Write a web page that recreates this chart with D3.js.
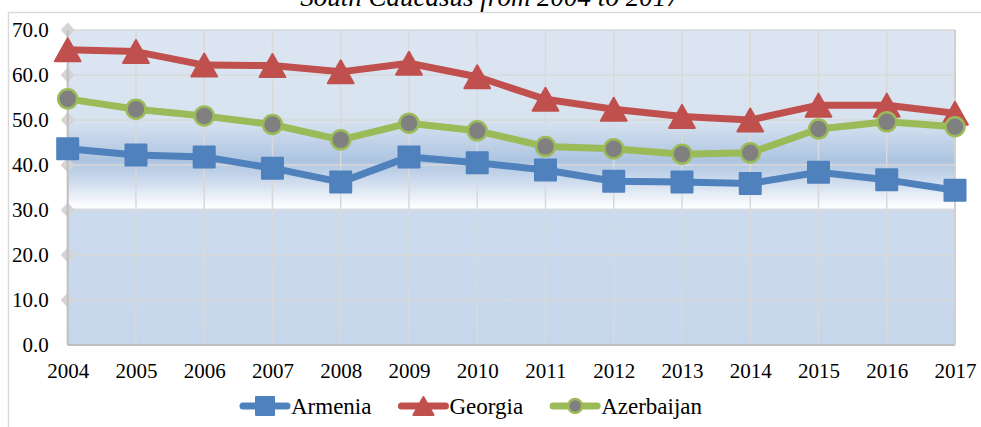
<!DOCTYPE html>
<html>
<head>
<meta charset="utf-8">
<script src="https://cdn.jsdelivr.net/npm/d3@7"></script>
<style>
body { margin: 0; background: #fff; }
svg { display: block; }
</style>
</head>
<body>
<svg id="chart" width="981" height="427"></svg>
<script>
var titleText = "South Caucasus from 2004 to 2017";
var years = [2004, 2005, 2006, 2007, 2008, 2009, 2010, 2011, 2012, 2013, 2014, 2015, 2016, 2017];
var armenia = [43.6, 42.2, 41.8, 39.3, 36.2, 41.8, 40.5, 38.9, 36.4, 36.2, 35.9, 38.4, 36.7, 34.4];
var georgia = [65.6, 65.2, 62.2, 62.1, 60.7, 62.6, 59.6, 54.6, 52.4, 50.8, 50.0, 53.3, 53.3, 51.5];
var azerbaijan = [54.7, 52.4, 50.9, 49.0, 45.6, 49.3, 47.6, 44.1, 43.6, 42.4, 42.7, 48.0, 49.6, 48.5];
var seriesNames = ["Armenia", "Georgia", "Azerbaijan"];
var yTicks = [0, 10, 20, 30, 40, 50, 60, 70];

var cfg = {
	plot: { left: 67.7, right: 955, top: 30, bottom: 345 },
	font: "'Liberation Serif', 'Times New Roman', serif",
	grid: "#d9d9d9",
	axis: "#bfbfbf"
};

var series = [
	{ name: seriesNames[0], values: armenia, color: "#4f81bd", marker: "square" },
	{ name: seriesNames[1], values: georgia, color: "#c0504d", marker: "triangle" },
	{ name: seriesNames[2], values: azerbaijan, color: "#9bbb59", marker: "circle" }
];

var svg = d3.select("#chart");

var x = d3.scalePoint().domain(years).range([cfg.plot.left, cfg.plot.right]);
var y = d3.scaleLinear().domain([0, 70]).range([cfg.plot.bottom, cfg.plot.top]);

// plot area fill: Excel style gradient band
var defs = svg.append("defs");
var grad = defs.append("linearGradient")
	.attr("id", "plotBg")
	.attr("x1", 0).attr("y1", 0).attr("x2", 0).attr("y2", 1);
function off(v) { return (70 - v) / 70; }
[
	[off(70), "#dce6f2"],
	[off(50), "#d8e3f0"],
	[off(41), "#adc4e1"],
	[off(36), "#d0ddee"],
	[off(30.6), "#ffffff"],
	[off(30), "#cbdaed"],
	[1, "#c7d7eb"]
].forEach(function(s) {
	grad.append("stop").attr("offset", s[0]).attr("stop-color", s[1]);
});

// outer chart border
svg.append("path")
	.attr("d", "M8.5,440 V12.5 H990")
	.attr("fill", "none")
	.attr("stroke", "#d9d9d9")
	.attr("stroke-width", 1.5);

// title, cut at the top edge as in the source
svg.append("text")
	.attr("x", 490)
	.attr("y", 6)
	.attr("text-anchor", "middle")
	.style("font-family", cfg.font)
	.attr("font-style", "italic")
	.attr("font-size", "27px")
	.attr("fill", "#000")
	.text(titleText);

svg.append("rect")
	.attr("x", cfg.plot.left)
	.attr("y", cfg.plot.top)
	.attr("width", cfg.plot.right - cfg.plot.left)
	.attr("height", cfg.plot.bottom - cfg.plot.top)
	.attr("fill", "url(#plotBg)");

// gridlines
svg.append("g").selectAll("line")
	.data(yTicks.filter(function(d) { return d > 0; }))
	.enter().append("line")
	.attr("x1", cfg.plot.left).attr("x2", cfg.plot.right)
	.attr("y1", y).attr("y2", y)
	.attr("stroke", cfg.grid).attr("stroke-width", 1.5);

svg.append("g").selectAll("line")
	.data(years.slice(1))
	.enter().append("line")
	.attr("x1", x).attr("x2", x)
	.attr("y1", cfg.plot.top).attr("y2", cfg.plot.bottom)
	.attr("stroke", cfg.grid).attr("stroke-width", 1.5);

// diamonds on the value axis
svg.append("g").selectAll("path")
	.data(yTicks.filter(function(d) { return d > 0; }))
	.enter().append("path")
	.attr("d", function(d) {
		var cx = cfg.plot.left, cy = y(d);
		return "M" + cx + "," + (cy - 7.5) + " L" + (cx + 7) + "," + cy +
			" L" + cx + "," + (cy + 7.5) + " L" + (cx - 7) + "," + cy + "Z";
	})
	.attr("fill", "#d4d4d4");

// axis lines
svg.append("line")
	.attr("x1", cfg.plot.left).attr("x2", cfg.plot.left)
	.attr("y1", cfg.plot.top).attr("y2", cfg.plot.bottom)
	.attr("stroke", cfg.axis).attr("stroke-width", 2);
svg.append("line")
	.attr("x1", cfg.plot.left).attr("x2", cfg.plot.right)
	.attr("y1", cfg.plot.bottom).attr("y2", cfg.plot.bottom)
	.attr("stroke", cfg.axis).attr("stroke-width", 2);
svg.append("line")
	.attr("x1", cfg.plot.right).attr("x2", cfg.plot.right)
	.attr("y1", cfg.plot.top).attr("y2", cfg.plot.bottom)
	.attr("stroke", "#d0d0d0").attr("stroke-width", 2);

// axes labels
var yAxis = svg.append("g")
	.attr("transform", "translate(" + cfg.plot.left + ",0)")
	.call(d3.axisLeft(y).tickValues(yTicks).tickFormat(d3.format(".1f")).tickSize(0).tickPadding(19));
var xAxis = svg.append("g")
	.attr("transform", "translate(0," + cfg.plot.bottom + ")")
	.call(d3.axisBottom(x).tickSize(0).tickPadding(18));
[yAxis, xAxis].forEach(function(g) {
	g.attr("font-family", null).attr("font-size", null);
	g.select(".domain").remove();
	g.selectAll("text")
		.style("font-family", cfg.font)
		.style("font-size", "21px")
		.attr("fill", "#000");
});

function markerPath(type, s) {
	if (type === "square") {
		return "M" + (-s / 2) + "," + (-s / 2) + "h" + s + "v" + s + "h" + (-s) + "Z";
	}
	var w = s * 1.12, h = s;
	return "M0," + (-h / 2) + " L" + (w / 2) + "," + (h / 2) + " L" + (-w / 2) + "," + (h / 2) + "Z";
}

function drawMarker(g, type, color, s) {
	if (type === "circle") {
		g.append("circle")
			.attr("r", s / 2)
			.attr("fill", "#808080")
			.attr("stroke", color)
			.attr("stroke-width", 2.5);
	} else {
		g.append("path")
			.attr("d", markerPath(type, s))
			.attr("fill", color)
			.attr("stroke", color)
			.attr("stroke-width", 2)
			.attr("stroke-linejoin", "round");
	}
}

var line = d3.line()
	.x(function(d, i) { return x(years[i]); })
	.y(function(d) { return y(d); });

var markerSize = { square: 21, triangle: 23, circle: 19 };

series.forEach(function(s) {
	var g = svg.append("g").attr("class", "series");
	g.append("path")
		.attr("d", line(s.values))
		.attr("fill", "none")
		.attr("stroke", s.color)
		.attr("stroke-width", 7)
		.attr("stroke-linejoin", "round")
		.attr("stroke-linecap", "round");
	g.selectAll(".pt")
		.data(s.values)
		.enter().append("g")
		.attr("class", "pt")
		.attr("transform", function(d, i) { return "translate(" + x(years[i]) + "," + y(d) + ")"; })
		.each(function() { drawMarker(d3.select(this), s.marker, s.color, markerSize[s.marker]); });
});

// legend
var legend = svg.append("g").attr("class", "legend");
var lx = 240, ly = 406;
series.forEach(function(s) {
	var item = legend.append("g").attr("transform", "translate(" + lx + "," + ly + ")");
	item.append("line")
		.attr("x1", 3).attr("x2", 47)
		.attr("y1", 0).attr("y2", 0)
		.attr("stroke", s.color)
		.attr("stroke-width", 7)
		.attr("stroke-linecap", "round");
	var m = item.append("g").attr("transform", "translate(25,0)");
	drawMarker(m, s.marker, s.color, s.marker === "circle" ? 14 : 18);
	var t = item.append("text")
		.attr("x", 51)
		.attr("y", 0)
		.attr("dy", "0.33em")
		.style("font-family", cfg.font)
		.style("font-size", "23px")
		.attr("fill", "#000")
		.text(s.name);
	lx += 51 + t.node().getComputedTextLength() + 27;
});
</script>
</body>
</html>
